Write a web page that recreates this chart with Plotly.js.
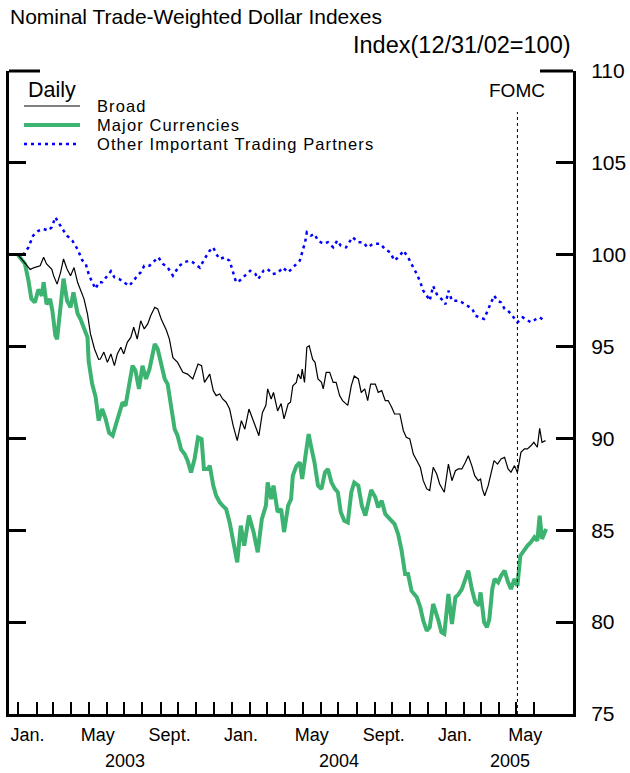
<!DOCTYPE html>
<html>
<head>
<meta charset="utf-8">
<script src="https://cdn.plot.ly/plotly-3.0.1.min.js"></script>
<style>
html,body{margin:0;padding:0;background:#fff;}
#chart{width:630px;height:773px;}
/* the key labels in the original are set wider than Arial at this size */
.annotation-text[data-unformatted="Broad"],
.annotation-text[data-unformatted="Major Currencies"],
.annotation-text[data-unformatted="Other Important Trading Partners"]{letter-spacing:1.1px;}
</style>
</head>
<body>
<div id="chart"></div>
<script>
// ---------- data ----------
const broadDates = ['2002-12-31','2003-01-15','2003-01-21','2003-01-28','2003-02-07','2003-02-13','2003-02-18','2003-02-27','2003-03-02','2003-03-08','2003-03-14','2003-03-19','2003-03-25','2003-03-31','2003-04-06','2003-04-12','2003-04-17','2003-04-23','2003-04-29','2003-05-04','2003-05-11','2003-05-18','2003-05-21','2003-05-27','2003-06-02','2003-06-08','2003-06-14','2003-06-19','2003-06-25','2003-06-30','2003-07-06','2003-07-12','2003-07-17','2003-07-23','2003-07-29','2003-08-04','2003-08-10','2003-08-15','2003-08-22','2003-08-27','2003-09-02','2003-09-11','2003-09-16','2003-09-22','2003-09-30','2003-10-09','2003-10-17','2003-10-26','2003-11-04','2003-11-10','2003-11-15','2003-11-24','2003-11-30','2003-12-05','2003-12-11','2003-12-16','2003-12-22','2003-12-28','2004-01-03','2004-01-10','2004-01-17','2004-01-23','2004-01-30','2004-02-07','2004-02-12','2004-02-16','2004-02-22','2004-02-28','2004-03-02','2004-03-08','2004-03-12','2004-03-19','2004-03-25','2004-03-30','2004-04-06','2004-04-10','2004-04-14','2004-04-20','2004-04-23','2004-04-28','2004-04-30','2004-05-04','2004-05-08','2004-05-12','2004-05-18','2004-05-22','2004-05-27','2004-06-02','2004-06-05','2004-06-10','2004-06-16','2004-06-22','2004-06-27','2004-07-03','2004-07-08','2004-07-17','2004-07-23','2004-07-28','2004-08-04','2004-08-09','2004-08-15','2004-08-20','2004-08-25','2004-09-02','2004-09-07','2004-09-13','2004-09-19','2004-09-24','2004-09-30','2004-10-05','2004-10-14','2004-10-20','2004-10-25','2004-10-31','2004-11-06','2004-11-12','2004-11-18','2004-11-23','2004-11-29','2004-12-04','2004-12-10','2004-12-16','2004-12-21','2004-12-29','2005-01-05','2005-01-11','2005-01-17','2005-01-22','2005-01-28','2005-02-03','2005-02-08','2005-02-14','2005-02-19','2005-02-25','2005-03-01','2005-03-04','2005-03-08','2005-03-14','2005-03-18','2005-03-24','2005-03-30','2005-04-05','2005-04-11','2005-04-17','2005-04-22','2005-04-28','2005-05-03','2005-05-09','2005-05-15','2005-05-20','2005-05-26','2005-05-31','2005-06-06','2005-06-10','2005-06-14','2005-06-20'];
const broadValues = [100,99.4,99.2,99.3,99.4,99.86,99.5,99.2,98.86,98.4,99.04,99.77,99.22,98.86,99.3,98.5,98.04,97.6,96.77,95.7,94.87,94.3,94.32,94.7,94.14,94.6,93.96,94.6,94.96,94.6,95.23,95.5,96.05,95.41,96.4,95.96,96.23,96.68,97.14,97.05,96.5,95.87,95.41,94.4,94.14,93.6,93.5,93.24,94.05,93.96,93.05,93.5,92.6,92.33,92.42,92.15,91.97,91.6,90.7,89.88,90.97,90.5,91.6,90.88,90.5,90.15,91.4,91.8,92.7,92.15,92.5,91.5,91.9,91.06,91.88,91.97,92.87,93.05,93.5,93.24,93.78,93.05,94.96,95.05,94.3,94.14,93.24,93.05,92.7,93.6,93.6,93.05,93.05,92.33,92.06,91.8,92.87,93.4,93.24,92.5,92.7,92.06,92.96,92.96,92.51,92.6,92.06,92.06,91.7,91.33,91.33,90.42,90.06,89.97,89.15,88.79,88.43,87.7,87.25,87.16,88.43,88.06,87.52,87.07,88.6,87.7,88.24,88.34,88.34,88.7,89.06,88.52,87.97,87.7,87.79,87.25,86.88,87.43,87.97,88.79,88.6,88.88,88.97,88.34,88.16,88.52,88.15,89.24,89.43,89.43,89.6,89.79,89.52,90.55,89.79,89.88];

const majorDates = ['2002-12-31','2003-01-12','2003-01-18','2003-01-23','2003-01-29','2003-02-04','2003-02-10','2003-02-13','2003-02-18','2003-02-24','2003-02-28','2003-03-05','2003-03-08','2003-03-14','2003-03-19','2003-03-25','2003-03-31','2003-04-05','2003-04-12','2003-04-17','2003-04-23','2003-04-29','2003-05-01','2003-05-07','2003-05-13','2003-05-18','2003-05-24','2003-05-30','2003-06-05','2003-06-11','2003-06-16','2003-06-22','2003-06-28','2003-07-03','2003-07-09','2003-07-15','2003-07-20','2003-07-26','2003-08-01','2003-08-07','2003-08-13','2003-08-18','2003-08-22','2003-08-27','2003-09-02','2003-09-08','2003-09-13','2003-09-19','2003-09-25','2003-09-30','2003-10-06','2003-10-12','2003-10-17','2003-10-23','2003-10-29','2003-11-04','2003-11-10','2003-11-14','2003-11-21','2003-11-24','2003-11-30','2003-12-05','2003-12-11','2003-12-16','2003-12-22','2003-12-28','2004-01-03','2004-01-10','2004-01-16','2004-01-22','2004-01-30','2004-02-07','2004-02-14','2004-02-21','2004-02-28','2004-03-02','2004-03-08','2004-03-12','2004-03-19','2004-03-25','2004-03-30','2004-04-06','2004-04-11','2004-04-14','2004-04-20','2004-04-26','2004-04-30','2004-05-05','2004-05-11','2004-05-15','2004-05-21','2004-05-27','2004-06-02','2004-06-08','2004-06-13','2004-06-19','2004-06-25','2004-06-30','2004-07-05','2004-07-11','2004-07-17','2004-07-23','2004-07-28','2004-08-04','2004-08-10','2004-08-16','2004-08-21','2004-08-26','2004-09-02','2004-09-07','2004-09-13','2004-09-19','2004-09-24','2004-09-30','2004-10-05','2004-10-11','2004-10-17','2004-10-23','2004-10-28','2004-11-03','2004-11-12','2004-11-18','2004-11-23','2004-11-29','2004-12-04','2004-12-10','2004-12-16','2004-12-19','2004-12-24','2004-12-29','2005-01-05','2005-01-11','2005-01-17','2005-01-22','2005-01-28','2005-02-03','2005-02-08','2005-02-14','2005-02-20','2005-02-26','2005-03-01','2005-03-07','2005-03-12','2005-03-16','2005-03-21','2005-03-25','2005-03-31','2005-04-05','2005-04-11','2005-04-17','2005-04-22','2005-04-28','2005-05-03','2005-05-08','2005-05-15','2005-05-20','2005-05-26','2005-06-01','2005-06-06','2005-06-10','2005-06-14','2005-06-21'];
const majorValues = [100,99.5,98.6,97.6,97.4,98.1,97.77,98.5,97.3,97.59,96.95,95.6,95.4,97.1,98.7,97.5,97.14,97.95,96.8,96.5,96.05,95.5,94.2,92.96,92.24,90.97,91.6,91.06,90.3,90.15,90.7,91.4,91.97,91.78,92.87,93.96,93.69,92.7,93.96,93.24,93.78,94.5,95.14,94.87,94.14,93.24,92.96,91.6,90.5,90.15,89.4,89.15,88.8,88.15,88.88,90.06,89.97,88.34,88.34,88.52,87.43,86.88,86.52,86.34,86.16,85.43,84.5,83.26,85.25,84.16,85.8,84.89,83.8,85.6,86.34,87.6,86.7,87.43,86.0,86.16,84.9,86.34,86.7,87.97,88.5,88.7,87.8,88.88,90.24,89.6,88.7,87.43,87.25,88.15,88.34,87.61,87.25,87.07,85.98,85.52,85.43,87.07,87.6,87.43,86.34,85.8,86.4,87.2,86.8,86.25,86.61,85.89,85.71,85.52,85.34,84.8,83.89,82.62,82.62,81.7,81.35,80.8,80.08,79.53,79.72,80.99,80.44,80.08,79.45,79.36,81.53,79.9,81.35,81.5,81.8,82.35,82.8,81.8,81.08,80.9,81.62,79.99,79.72,80.17,81.8,82.35,82.17,82.53,82.8,82.17,81.8,82.35,81.98,83.62,83.98,84.16,84.35,84.62,84.43,85.8,84.53,85.07];

const otherDates = ['2002-12-31','2003-01-06','2003-01-18','2003-01-26','2003-02-04','2003-02-13','2003-02-21','2003-02-27','2003-03-05','2003-03-11','2003-03-17','2003-03-25','2003-04-03','2003-04-12','2003-04-20','2003-04-26','2003-05-01','2003-05-07','2003-05-13','2003-05-18','2003-05-24','2003-06-02','2003-06-08','2003-06-14','2003-06-22','2003-06-30','2003-07-09','2003-07-17','2003-07-23','2003-07-29','2003-08-04','2003-08-13','2003-08-21','2003-08-28','2003-09-05','2003-09-13','2003-09-22','2003-09-28','2003-10-03','2003-10-12','2003-10-20','2003-10-26','2003-11-07','2003-11-15','2003-11-24','2003-11-30','2003-12-05','2003-12-11','2003-12-19','2003-12-28','2004-01-03','2004-01-08','2004-01-14','2004-01-23','2004-02-01','2004-02-10','2004-02-15','2004-02-24','2004-03-02','2004-03-10','2004-03-19','2004-03-28','2004-04-06','2004-04-14','2004-04-20','2004-04-26','2004-04-30','2004-05-05','2004-05-08','2004-05-15','2004-05-21','2004-05-27','2004-06-05','2004-06-13','2004-06-22','2004-06-29','2004-07-05','2004-07-14','2004-07-25','2004-08-04','2004-08-12','2004-08-20','2004-08-29','2004-09-10','2004-09-19','2004-09-27','2004-10-05','2004-10-14','2004-10-20','2004-10-28','2004-11-06','2004-11-12','2004-11-18','2004-11-23','2004-11-29','2004-12-04','2004-12-10','2004-12-16','2004-12-21','2004-12-27','2004-12-31','2005-01-05','2005-01-11','2005-01-17','2005-01-22','2005-01-28','2005-02-06','2005-02-15','2005-02-20','2005-02-28','2005-03-07','2005-03-13','2005-03-18','2005-03-24','2005-03-30','2005-04-05','2005-04-11','2005-04-17','2005-04-22','2005-04-28','2005-05-03','2005-05-12','2005-05-20','2005-05-26','2005-06-04','2005-06-10','2005-06-18'];
const otherValues = [100,99.86,100.4,101.04,101.3,101.4,101.31,101.5,102.04,101.7,101.4,101.04,100.77,100.3,99.7,99.5,98.95,98.5,98.14,98.5,98.5,98.86,99.1,98.77,98.68,98.5,98.3,98.59,98.86,99.04,99.4,99.4,99.67,99.86,99.5,99.31,98.86,99.13,99.4,99.6,99.67,99.59,99.3,99.77,100.22,100.4,100.04,99.77,99.86,99.67,99.04,98.5,98.59,98.86,99.13,98.95,98.68,99.13,99.22,98.95,99.0,99.3,99.04,99.3,99.5,99.68,100.13,100.68,101.22,101.04,101.13,100.77,100.6,100.68,100.4,100.77,100.49,100.4,100.95,100.68,100.68,100.4,100.6,100.6,100.3,100.13,99.68,99.95,100.22,99.86,99.3,98.95,98.5,98.04,97.77,97.5,98.3,97.86,97.68,97.5,97.3,98.04,97.5,97.5,97.5,97.41,97.22,97.05,96.68,96.59,96.5,96.95,97.3,97.77,97.5,97.4,97.05,96.95,96.77,96.5,96.32,96.59,96.41,96.32,96.5,96.59,96.41];

const seriesNames = ['Broad', 'Major Currencies', 'Other Important Trading Partners'];

const monthTickDates = ['2003-01-01','2003-02-01','2003-03-01','2003-04-01','2003-05-01','2003-06-01','2003-07-01','2003-08-01','2003-09-01','2003-10-01','2003-11-01','2003-12-01','2004-01-01','2004-02-01','2004-03-01','2004-04-01','2004-05-01','2004-06-01','2004-07-01','2004-08-01','2004-09-01','2004-10-01','2004-11-01','2004-12-01','2005-01-01','2005-02-01','2005-03-01','2005-04-01','2005-05-01','2005-06-01'];
const monthTickText = ['Jan.','','','','May','','','','Sept.','','','','Jan.','','','','May','','','','Sept.','','','','Jan.','','','','May',''];
const yearLabels = ['2003', '2004', '2005'];
const yearLabelDates = ['2003-07-02', '2004-07-02', '2005-04-20'];
const yTickValues = [75, 80, 85, 90, 95, 100, 105, 110];
const fomcDate = '2005-05-03';

// ---------- styles ----------
const FONT = 'Liberation Sans, Arial, Helvetica, sans-serif';
const GREEN = 'rgb(60,179,113)';
const BLUE = 'rgb(0,0,255)';
const seriesStyles = [
  {color: 'black', width: 1.2, dash: 'solid'},
  {color: GREEN, width: 4, dash: 'solid'},
  {color: BLUE, width: 2.5, dash: '3px,4px'}
];
const seriesX = [broadDates, majorDates, otherDates];
const seriesY = [broadValues, majorValues, otherValues];

// draw order: other (back), major, broad (front)
const traces = [2, 1, 0].map(i => ({
  type: 'scatter', mode: 'lines', name: seriesNames[i],
  x: seriesX[i], y: seriesY[i],
  line: {color: seriesStyles[i].color, width: seriesStyles[i].width, dash: seriesStyles[i].dash},
  showlegend: false, hoverinfo: 'skip'
}));

// plot area geometry in px (for the hand-built key)
const L = 9, R = 57, T = 71, B = 59, W = 630, H = 773;
const pw = W - L - R, ph = H - T - B;
const px = x => (x - L) / pw;
const py = y => (H - B - y) / ph;

const shapes = [
  // broken top frame
  {type: 'line', xref: 'paper', yref: 'paper', x0: 0, x1: px(40), y0: 1, y1: 1, line: {color: 'black', width: 3}},
  {type: 'line', xref: 'paper', yref: 'paper', x0: px(540), x1: 1, y0: 1, y1: 1, line: {color: 'black', width: 3}},
  // FOMC marker
  {type: 'line', xref: 'x', yref: 'paper', x0: fomcDate, x1: fomcDate, y0: 0, y1: py(112), line: {color: 'black', width: 1, dash: '3px,3px'}}
];
const annotations = [
  {xref: 'paper', yref: 'paper', x: 1, y: py(45), xanchor: 'right', yanchor: 'middle', showarrow: false,
   text: 'Index(12/31/02=100)', font: {family: FONT, size: 23.5, color: 'black'}},
  {xref: 'x', yref: 'paper', x: fomcDate, y: py(90), xanchor: 'center', yanchor: 'middle', showarrow: false,
   text: 'FOMC', font: {family: FONT, size: 19, color: 'black'}},
  {xref: 'paper', yref: 'paper', x: px(25.5), y: py(90), xanchor: 'left', yanchor: 'middle', showarrow: false,
   text: 'Daily', font: {family: FONT, size: 21.5, color: 'black'}}
];
// key: line samples + labels
const keyRows = [106, 125, 144];
seriesNames.forEach((n, i) => {
  shapes.push({type: 'line', xref: 'paper', yref: 'paper', x0: px(24), x1: px(80), y0: py(keyRows[i]), y1: py(keyRows[i]),
    line: {color: seriesStyles[i].color, width: seriesStyles[i].width, dash: seriesStyles[i].dash}});
  annotations.push({xref: 'paper', yref: 'paper', x: px(96), y: py(keyRows[i]), xanchor: 'left', yanchor: 'middle',
    showarrow: false, borderpad: 0, text: n, font: {family: FONT, size: 16.5, color: 'black'}});
});
yearLabels.forEach((t, i) => {
  annotations.push({xref: 'x', yref: 'paper', x: yearLabelDates[i], y: py(761), xanchor: 'center', yanchor: 'middle',
    showarrow: false, text: t, font: {family: FONT, size: 18, color: 'black'}});
});

const layout = {
  width: W, height: H,
  margin: {l: L, r: R, t: T, b: B, pad: 0},
  paper_bgcolor: 'white', plot_bgcolor: 'white',
  font: {family: FONT, color: 'black'},
  showlegend: false,
  title: {text: 'Nominal Trade-Weighted Dollar Indexes', xref: 'container', x: 10 / W, xanchor: 'left',
          yref: 'container', y: 1 - 17 / H, yanchor: 'middle', font: {family: FONT, size: 21, color: 'black'}},
  xaxis: {
    type: 'date', range: ['2002-12-15 19:00', '2005-08-06'],
    tickmode: 'array', tickvals: monthTickDates, ticktext: monthTickText,
    ticks: 'inside', ticklen: 12, tickwidth: 2, tickcolor: 'black',
    ticklabelshift: 9, ticklabelstandoff: 2,
    tickfont: {family: FONT, size: 18, color: 'black'},
    showline: true, linewidth: 3, linecolor: 'black', mirror: false,
    showgrid: false, zeroline: false, fixedrange: true
  },
  yaxis: {
    range: [75, 110], side: 'right', tickmode: 'array', tickvals: yTickValues,
    ticks: 'inside', ticklen: 17, tickwidth: 3, tickcolor: 'black',
    ticklabelstandoff: 11,
    tickfont: {family: FONT, size: 21, color: 'black'},
    showline: true, linewidth: 3, linecolor: 'black', mirror: 'ticks',
    showgrid: false, zeroline: false, fixedrange: true
  },
  shapes: shapes,
  annotations: annotations
};

Plotly.newPlot('chart', traces, layout, {displayModeBar: false, staticPlot: true});
</script>
</body>
</html>
